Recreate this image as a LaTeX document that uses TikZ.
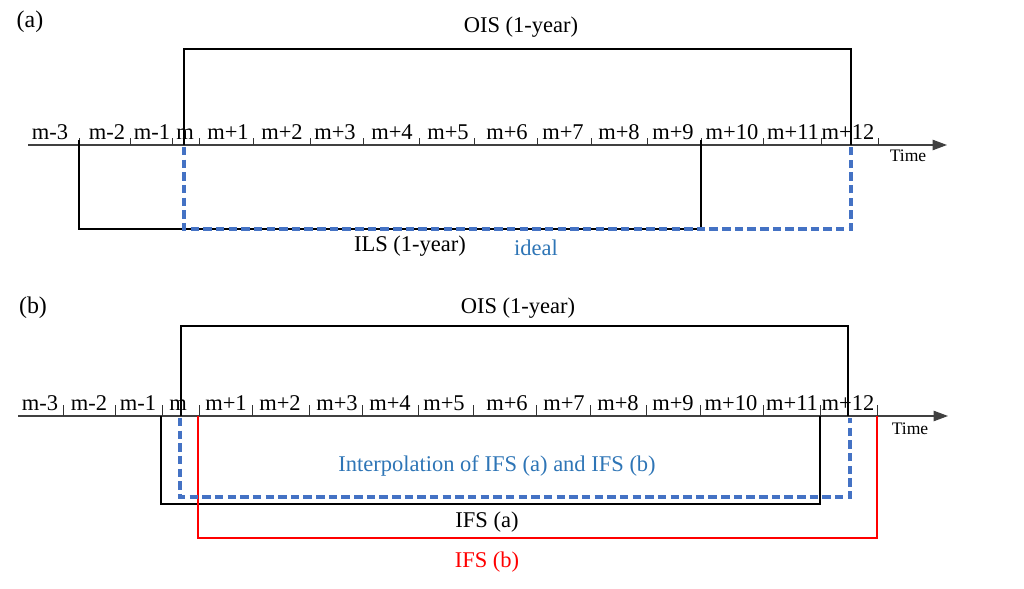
\documentclass[tikz,border=0pt]{standalone}
\usepackage{fontspec}
\setmainfont{Liberation Serif}
\usetikzlibrary{arrows.meta}
\definecolor{ifsblue}{RGB}{68,114,196}
\definecolor{txtblue}{RGB}{46,117,182}

\begin{document}
\begin{tikzpicture}[x=0.025cm,y=-0.025cm,
  axis/.style={black!75,line width=0.9pt,-{Triangle[length=0.36cm,width=0.26cm]}},
  tick/.style={black!80,line width=0.5pt},
  box/.style={black,line width=1.1pt},
  ideal/.style={ifsblue,line width=2.3pt,dash pattern=on 6pt off 3pt},
  redbox/.style={red,line width=1.1pt},
  lab/.style={font=\fontsize{16}{18}\selectfont,inner sep=0pt,anchor=base},
  tm/.style={font=\fontsize{12.5}{14}\selectfont,inner sep=0pt}]
\useasboundingbox (0,0) rectangle (1024,588);
% panel (a)
\node[font=\fontsize{17}{19}\selectfont] (pa) at (30,22) {(a)};
\coordinate (axA0) at (28,145);
\coordinate (axA1) at (947,145);
\draw[axis] (axA0)--(axA1);
\node[tm] (timeA) at (908,156) {Time};
\foreach \x in {79,130,172,199,253,310,363,419,474,537,591,647,701,763,821,878}
  \draw[tick] (\x,138)--(\x,145);
\foreach \x/\t [count=\i] in {50/m-3,107/m-2,152/m-1,185/m,228/m+1,282/m+2,335/m+3,392/m+4,448/m+5,507/m+6,563/m+7,619/m+8,673/m+9,732/m+10,793/m+11,848/m+12}
  \node[lab] (ta\i) at (\x,139) {\t};
\coordinate (oisA1) at (184,145);
\coordinate (oisA2) at (184,49);
\coordinate (oisA3) at (851,49);
\coordinate (oisA4) at (851,145);
\draw[box] (oisA1)--(oisA2)--(oisA3)--(oisA4);
\node[lab,anchor=center] (oisA) at (521,27) {OIS (1-year)};
\coordinate (ilsA1) at (79,140);
\coordinate (ilsA2) at (79,229);
\coordinate (ilsA3) at (701,229);
\coordinate (ilsA4) at (701,140);
\draw[box] (ilsA1)--(ilsA2)--(ilsA3)--(ilsA4);
\coordinate (idA1) at (184,147);
\coordinate (idA2) at (184,229);
\coordinate (idA3) at (851,229);
\coordinate (idA4) at (851,147);
\draw[ideal] (idA1)--(idA2)--(idA3)--(idA4);
\node[lab,anchor=center] (ilsA) at (410,246) {ILS (1-year)};
\node[lab,anchor=center,text=txtblue] (idealA) at (536,248) {ideal};
% panel (b)
\node[font=\fontsize{17}{19}\selectfont] (pb) at (33,308) {(b)};
\coordinate (axB0) at (18,416);
\coordinate (axB1) at (948,416);
\draw[axis] (axB0)--(axB1);
\node[tm] (timeB) at (910,429) {Time};
\foreach \x in {63,115,162,199,252,309,362,418,473,536,590,646,700,763,820,877}
  \draw[tick] (\x,405)--(\x,416);
\foreach \x/\t [count=\i] in {40/m-3,89/m-2,138/m-1,178/m,226/m+1,280/m+2,337/m+3,390/m+4,444/m+5,507/m+6,564/m+7,618/m+8,673/m+9,731/m+10,792/m+11,848/m+12}
  \node[lab] (tb\i) at (\x,410) {\t};
\coordinate (oisB1) at (181,416);
\coordinate (oisB2) at (181,326);
\coordinate (oisB3) at (848,326);
\coordinate (oisB4) at (848,416);
\draw[box] (oisB1)--(oisB2)--(oisB3)--(oisB4);
\node[lab,anchor=center] (oisB) at (518,308) {OIS (1-year)};
\coordinate (ifsA1) at (161,416);
\coordinate (ifsA2) at (161,504);
\coordinate (ifsA3) at (820,504);
\coordinate (ifsA4) at (820,416);
\draw[box] (ifsA1)--(ifsA2)--(ifsA3)--(ifsA4);
\coordinate (ifsB1) at (198,416);
\coordinate (ifsB2) at (198,538);
\coordinate (ifsB3) at (877,538);
\coordinate (ifsB4) at (877,416);
\draw[redbox] (ifsB1)--(ifsB2)--(ifsB3)--(ifsB4);
\coordinate (intB1) at (180,418);
\coordinate (intB2) at (180,497);
\coordinate (intB3) at (850,497);
\coordinate (intB4) at (850,418);
\draw[ideal] (intB1)--(intB2)--(intB3)--(intB4);
\node[lab,anchor=center,text=txtblue] (intB) at (497,466) {Interpolation of IFS (a) and IFS (b)};
\node[lab,anchor=center] (ifsAl) at (487,522) {IFS (a)};
\node[lab,anchor=center,text=red] (ifsBl) at (487,562) {IFS (b)};
\end{tikzpicture}
\end{document}
